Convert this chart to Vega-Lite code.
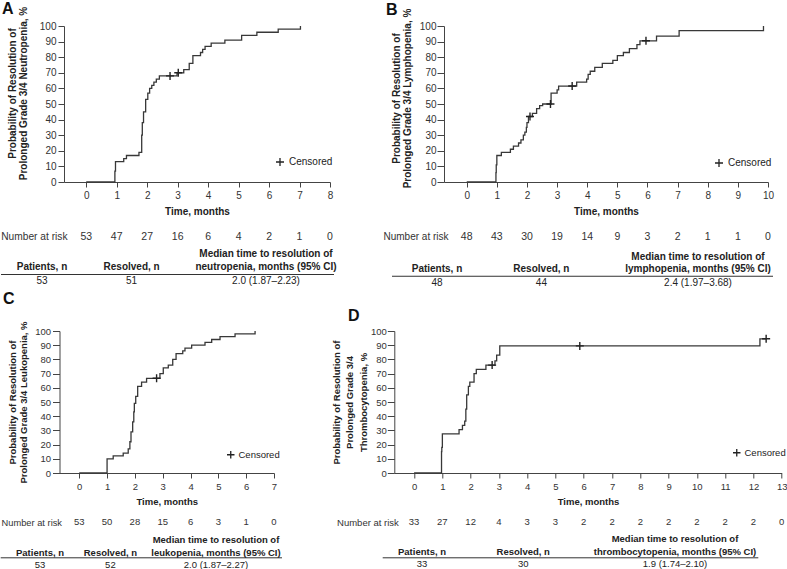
{
  "$schema": "https://vega.github.io/schema/vega-lite/v6.json",
  "background": "white",
  "padding": {"left": 0, "right": 1, "top": 0, "bottom": 0},
  "config": {
    "font": "Liberation Sans",
    "view": {"stroke": null},
    "axis": {"labelColor": "#333", "titleColor": "#222", "domainColor": "#444", "tickColor": "#444", "grid": false, "labelFontSize": 10, "titleFontSize": 10, "titleFontWeight": "bold", "labelOverlap": false},
    "axisX": {"labelFlush": false, "tickSize": 5, "labelPadding": 3, "titlePadding": 6},
    "axisY": {"tickSize": 6, "labelPadding": 2}
  },
  "datasets": {
    "kmA": [{"t":0,"p":0},{"t":0.94,"p":7},{"t":0.96,"p":13},{"t":1.23,"p":15},{"t":1.32,"p":17},{"t":1.73,"p":19},{"t":1.82,"p":30},{"t":1.84,"p":38},{"t":1.88,"p":45},{"t":1.95,"p":53},{"t":2.02,"p":57},{"t":2.08,"p":60},{"t":2.15,"p":62},{"t":2.22,"p":64},{"t":2.3,"p":66},{"t":2.4,"p":68},{"t":2.98,"p":70},{"t":3.2,"p":72},{"t":3.38,"p":76},{"t":3.5,"p":81},{"t":3.75,"p":83},{"t":3.82,"p":85},{"t":3.9,"p":87},{"t":4.1,"p":89},{"t":4.55,"p":91},{"t":5.1,"p":94},{"t":5.6,"p":96},{"t":6.3,"p":98},{"t":7.03,"p":100}],
    "censA": [{"t":2.75,"p":68,"c":"Censored"},{"t":3.02,"p":70,"c":"Censored"}],
    "riskA": [{"t":0,"n":53,"r":"Number at risk"},{"t":1,"n":47,"r":"Number at risk"},{"t":2,"n":27,"r":"Number at risk"},{"t":3,"n":16,"r":"Number at risk"},{"t":4,"n":6,"r":"Number at risk"},{"t":5,"n":4,"r":"Number at risk"},{"t":6,"n":2,"r":"Number at risk"},{"t":7,"n":1,"r":"Number at risk"},{"t":8,"n":0,"r":"Number at risk"}],
    "tabA": [{"col":"Patients, n","row":"header","txt":"\nPatients, n"},{"col":"Resolved, n","row":"header","txt":"\nResolved, n"},{"col":"Median","row":"header","txt":"Median time to resolution of\nneutropenia, months (95% CI)"},{"col":"Patients, n","row":"value","txt":"53"},{"col":"Resolved, n","row":"value","txt":"51"},{"col":"Median","row":"value","txt":"2.0 (1.87–2.23)"}],
    "kmB": [{"t":0,"p":0},{"t":0.97,"p":6},{"t":0.98,"p":11},{"t":1.0,"p":17},{"t":1.15,"p":19},{"t":1.45,"p":21},{"t":1.55,"p":23},{"t":1.72,"p":25},{"t":1.8,"p":27},{"t":1.88,"p":30},{"t":1.93,"p":32},{"t":1.98,"p":35},{"t":2.0,"p":38},{"t":2.05,"p":42},{"t":2.18,"p":44},{"t":2.32,"p":47},{"t":2.42,"p":49},{"t":2.52,"p":50},{"t":2.8,"p":57},{"t":3.0,"p":59},{"t":3.05,"p":61.5},{"t":3.65,"p":64},{"t":3.98,"p":66},{"t":4.03,"p":69},{"t":4.1,"p":71},{"t":4.25,"p":73.5},{"t":4.5,"p":76},{"t":4.85,"p":78},{"t":5.0,"p":81},{"t":5.2,"p":83},{"t":5.4,"p":85.5},{"t":5.65,"p":88},{"t":5.75,"p":90.5},{"t":6.3,"p":93.5},{"t":7.05,"p":97},{"t":9.85,"p":100}],
    "censB": [{"t":2.1,"p":42,"c":"Censored"},{"t":2.78,"p":50,"c":"Censored"},{"t":3.5,"p":61.5,"c":"Censored"},{"t":5.95,"p":90.5,"c":"Censored"}],
    "riskB": [{"t":0,"n":48,"r":"Number at risk"},{"t":1,"n":43,"r":"Number at risk"},{"t":2,"n":30,"r":"Number at risk"},{"t":3,"n":19,"r":"Number at risk"},{"t":4,"n":14,"r":"Number at risk"},{"t":5,"n":9,"r":"Number at risk"},{"t":6,"n":3,"r":"Number at risk"},{"t":7,"n":2,"r":"Number at risk"},{"t":8,"n":1,"r":"Number at risk"},{"t":9,"n":1,"r":"Number at risk"},{"t":10,"n":0,"r":"Number at risk"}],
    "tabB": [{"col":"Patients, n","row":"header","txt":"\nPatients, n"},{"col":"Resolved, n","row":"header","txt":"\nResolved, n"},{"col":"Median","row":"header","txt":"Median time to resolution of\nlymphopenia, months (95% CI)"},{"col":"Patients, n","row":"value","txt":"48"},{"col":"Resolved, n","row":"value","txt":"44"},{"col":"Median","row":"value","txt":"2.4 (1.97–3.68)"}],
    "kmC": [{"t":0,"p":0},{"t":1.0,"p":10},{"t":1.22,"p":12},{"t":1.58,"p":14},{"t":1.76,"p":17},{"t":1.82,"p":22},{"t":1.86,"p":29},{"t":1.92,"p":36},{"t":1.96,"p":43},{"t":1.98,"p":49},{"t":2.03,"p":54},{"t":2.1,"p":61},{"t":2.24,"p":64},{"t":2.42,"p":66.7},{"t":2.9,"p":70},{"t":3.02,"p":74},{"t":3.2,"p":76},{"t":3.36,"p":80},{"t":3.48,"p":84},{"t":3.72,"p":86},{"t":3.8,"p":88},{"t":4.04,"p":90},{"t":4.52,"p":92},{"t":4.76,"p":94},{"t":5.06,"p":96},{"t":5.6,"p":98},{"t":6.32,"p":100}],
    "censC": [{"t":2.78,"p":66.7,"c":"Censored"}],
    "riskC": [{"t":0,"n":53,"r":"Number at risk"},{"t":1,"n":50,"r":"Number at risk"},{"t":2,"n":28,"r":"Number at risk"},{"t":3,"n":15,"r":"Number at risk"},{"t":4,"n":6,"r":"Number at risk"},{"t":5,"n":3,"r":"Number at risk"},{"t":6,"n":1,"r":"Number at risk"},{"t":7,"n":0,"r":"Number at risk"}],
    "tabC": [{"col":"Patients, n","row":"header","txt":"\nPatients, n"},{"col":"Resolved, n","row":"header","txt":"\nResolved, n"},{"col":"Median","row":"header","txt":"Median time to resolution of\nleukopenia, months (95% CI)"},{"col":"Patients, n","row":"value","txt":"53"},{"col":"Resolved, n","row":"value","txt":"52"},{"col":"Median","row":"value","txt":"2.0 (1.87–2.27)"}],
    "kmD": [{"t":0,"p":0},{"t":0.97,"p":15},{"t":0.98,"p":18},{"t":1.0,"p":27.5},{"t":1.59,"p":30.5},{"t":1.71,"p":33.5},{"t":1.79,"p":36.5},{"t":1.83,"p":45},{"t":1.86,"p":55},{"t":1.92,"p":61},{"t":1.97,"p":64},{"t":2.12,"p":70},{"t":2.2,"p":73},{"t":2.54,"p":76},{"t":2.86,"p":79},{"t":2.92,"p":83},{"t":3.03,"p":89.5},{"t":12.23,"p":94.5},{"t":12.45,"p":94.5}],
    "censD": [{"t":2.76,"p":76,"c":"Censored"},{"t":5.86,"p":89.5,"c":"Censored"},{"t":12.45,"p":94.5,"c":"Censored"}],
    "riskD": [{"t":0,"n":33,"r":"Number at risk"},{"t":1,"n":27,"r":"Number at risk"},{"t":2,"n":12,"r":"Number at risk"},{"t":3,"n":4,"r":"Number at risk"},{"t":4,"n":3,"r":"Number at risk"},{"t":5,"n":3,"r":"Number at risk"},{"t":6,"n":2,"r":"Number at risk"},{"t":7,"n":2,"r":"Number at risk"},{"t":8,"n":2,"r":"Number at risk"},{"t":9,"n":2,"r":"Number at risk"},{"t":10,"n":2,"r":"Number at risk"},{"t":11,"n":2,"r":"Number at risk"},{"t":12,"n":2,"r":"Number at risk"},{"t":13,"n":0,"r":"Number at risk"}],
    "tabD": [{"col":"Patients, n","row":"header","txt":"\nPatients, n"},{"col":"Resolved, n","row":"header","txt":"\nResolved, n"},{"col":"Median","row":"header","txt":"Median time to resolution of\nthrombocytopenia, months (95% CI)"},{"col":"Patients, n","row":"value","txt":"33"},{"col":"Resolved, n","row":"value","txt":"30"},{"col":"Median","row":"value","txt":"1.9 (1.74–2.10)"}]
  },
  "spacing": 1,
  "resolve": {"scale": {"shape": "independent"}, "legend": {"shape": "independent"}},
  "vconcat": [
    {
      "hconcat": [
        {
          "vconcat": [
            {
              "width": 266, "height": 156,
              "title": {"text": "A", "anchor": "start", "frame": "group", "fontSize": 16, "fontWeight": "bold", "color": "#111", "offset": 0, "dx": -62, "dy": 10.4},
              "encoding": {
                "x": {"field": "t", "type": "quantitative", "scale": {"domain": [-0.73, 8], "nice": false, "zero": false}, "axis": {"values": [0,1,2,3,4,5,6,7,8], "tickCount": 9, "labelOverlap": false, "title": "Time, months"}},
                "y": {"field": "p", "type": "quantitative", "scale": {"domain": [0, 100], "nice": false}, "axis": {"values": [0,10,20,30,40,50,60,70,80,90,100], "tickCount": 11, "labelOverlap": false, "title": ["Probability of Resolution of", "Prolonged Grade 3/4 Neutropenia, %"], "titleLineHeight": 11, "titlePadding": 11, "titleY": 67}}
              },
              "layer": [
                {"data": {"name": "kmA"}, "mark": {"type": "line", "interpolate": "step-after", "color": "#383838", "strokeWidth": 1.3}},
                {"data": {"name": "censA"}, "mark": {"type": "point", "filled": false, "color": "#222", "strokeWidth": 1.4, "size": 64, "opacity": 1},
                 "encoding": {
                   "shape": {"field": "c", "type": "nominal", "scale": {"range": ["M-1,0H1M0,-1V1"]}, "legend": {"orient": "none", "legendX": 211, "legendY": 131, "title": null, "labelFontSize": 10, "labelColor": "#222", "symbolStrokeColor": "#222", "symbolStrokeWidth": 1.3, "symbolSize": 64, "symbolFillColor": "transparent", "padding": 0, "labelOffset": 4}}
                 }}
              ]
            },
            {
              "width": 266, "height": 65,
              "data": {"name": "riskA"},
              "mark": {"type": "text", "fontSize": 10.5, "color": "#333", "baseline": "middle"},
              "encoding": {
                "x": {"field": "t", "type": "quantitative", "scale": {"domain": [-0.73, 8], "nice": false, "zero": false}, "axis": null},
                "y": {"field": "r", "type": "nominal", "scale": {"type": "point", "range": [54.7, 54.7]}, "axis": {"title": null, "domain": false, "ticks": false, "labelPadding": -3, "labelFontSize": 10.2, "labelColor": "#333"}},
                "text": {"field": "n", "type": "quantitative"}
              }
            },
            {
              "width": 266, "height": 42,
              "data": {"name": "tabA"},
              "resolve": {"scale": {"x": "independent"}},
              "layer": [
                {"transform": [{"filter": "datum.row === 'header'"}],
                 "mark": {"type": "text", "fontWeight": "bold", "fontSize": 10, "baseline": "bottom", "lineBreak": "\n", "lineHeight": 12.5, "color": "#222"},
                 "encoding": {
                   "x": {"field": "col", "type": "nominal", "scale": {"type": "point", "domain": ["Patients, n", "s1", "Resolved, n", "s2", "s3", "Median"], "range": [-22, 202], "padding": 0}, "axis": null},
                   "y": {"field": "row", "type": "nominal", "scale": {"type": "point", "domain": ["header", "rule", "value"], "range": [12.4, 42.6], "padding": 0}, "axis": null},
                   "text": {"field": "txt", "type": "nominal"}
                 }},
                {"transform": [{"filter": "datum.row === 'value'"}],
                 "mark": {"type": "text", "fontSize": 10, "baseline": "middle", "dy": -8.2, "color": "#222"},
                 "encoding": {
                   "x": {"field": "col", "type": "nominal", "scale": {"type": "point", "domain": ["Patients, n", "s1", "Resolved, n", "s2", "s3", "Median"], "range": [-22, 202], "padding": 0}, "axis": null},
                   "y": {"field": "row", "type": "nominal"},
                   "text": {"field": "txt", "type": "nominal"}
                 }},
                {"data": {"values": [{"row": "rule"}]},
                 "mark": {"type": "rule", "color": "#333", "strokeWidth": 1},
                 "encoding": {
                   "x": {"datum": 0, "type": "quantitative", "scale": {"domain": [0, 1], "range": [-63, 270]}, "axis": null},
                   "x2": {"datum": 1},
                   "y": {"field": "row", "type": "nominal"}
                 }}
              ]
            }
          ],
          "spacing": 0,
          "bounds": "flush",
          "resolve": {"scale": {"shape": "independent"}, "legend": {"shape": "independent"}}
        },
        {
          "vconcat": [
            {
              "width": 324, "height": 156,
              "title": {"text": "B", "anchor": "start", "frame": "group", "fontSize": 16, "fontWeight": "bold", "color": "#111", "offset": 0, "dx": -58, "dy": 9.4},
              "encoding": {
                "x": {"field": "t", "type": "quantitative", "scale": {"domain": [-0.754, 10], "nice": false, "zero": false}, "axis": {"values": [0,1,2,3,4,5,6,7,8,9,10], "tickCount": 11, "labelOverlap": false, "title": "Time, months"}},
                "y": {"field": "p", "type": "quantitative", "scale": {"domain": [0, 100], "nice": false}, "axis": {"values": [0,10,20,30,40,50,60,70,80,90,100], "tickCount": 11, "labelOverlap": false, "title": ["Probability of Resolution of", "Prolonged Grade 3/4 Lymphopenia, %"], "titleLineHeight": 11, "titlePadding": 7, "titleY": 72, "tickSize": 7, "labelPadding": 1}}
              },
              "layer": [
                {"data": {"name": "kmB"}, "mark": {"type": "line", "interpolate": "step-after", "color": "#383838", "strokeWidth": 1.3}},
                {"data": {"name": "censB"}, "mark": {"type": "point", "filled": false, "color": "#222", "strokeWidth": 1.4, "size": 64, "opacity": 1},
                 "encoding": {
                   "shape": {"field": "c", "type": "nominal", "scale": {"range": ["M-1,0H1M0,-1V1"]}, "legend": {"orient": "none", "legendX": 270, "legendY": 132, "title": null, "labelFontSize": 10, "labelColor": "#222", "symbolStrokeColor": "#222", "symbolStrokeWidth": 1.3, "symbolSize": 64, "symbolFillColor": "transparent", "padding": 0, "labelOffset": 4}}
                 }}
              ]
            },
            {
              "width": 324, "height": 65,
              "data": {"name": "riskB"},
              "mark": {"type": "text", "fontSize": 10.5, "color": "#333", "baseline": "middle"},
              "encoding": {
                "x": {"field": "t", "type": "quantitative", "scale": {"domain": [-0.754, 10], "nice": false, "zero": false}, "axis": null},
                "y": {"field": "r", "type": "nominal", "scale": {"type": "point", "range": [54.7, 54.7]}, "axis": {"title": null, "domain": false, "ticks": false, "labelPadding": -4, "labelFontSize": 10, "labelColor": "#333"}},
                "text": {"field": "n", "type": "quantitative"}
              }
            },
            {
              "width": 324, "height": 42,
              "data": {"name": "tabB"},
              "resolve": {"scale": {"x": "independent"}},
              "layer": [
                {"transform": [{"filter": "datum.row === 'header'"}],
                 "mark": {"type": "text", "fontWeight": "bold", "fontSize": 10, "baseline": "bottom", "lineBreak": "\n", "lineHeight": 12.5, "color": "#222"},
                 "encoding": {
                   "x": {"field": "col", "type": "nominal", "scale": {"type": "point", "domain": ["Patients, n", "s1", "Resolved, n", "s2", "s3", "Median"], "range": [-7, 254], "padding": 0}, "axis": null},
                   "y": {"field": "row", "type": "nominal", "scale": {"type": "point", "domain": ["header", "rule", "value"], "range": [14.7, 43.8], "padding": 0}, "axis": null},
                   "text": {"field": "txt", "type": "nominal"}
                 }},
                {"transform": [{"filter": "datum.row === 'value'"}],
                 "mark": {"type": "text", "fontSize": 10, "baseline": "middle", "dy": -8.3, "color": "#222"},
                 "encoding": {
                   "x": {"field": "col", "type": "nominal", "scale": {"type": "point", "domain": ["Patients, n", "s1", "Resolved, n", "s2", "s3", "Median"], "range": [-7, 254], "padding": 0}, "axis": null},
                   "y": {"field": "row", "type": "nominal"},
                   "text": {"field": "txt", "type": "nominal"}
                 }},
                {"data": {"values": [{"row": "rule"}]},
                 "mark": {"type": "rule", "color": "#333", "strokeWidth": 1},
                 "encoding": {
                   "x": {"datum": 0, "type": "quantitative", "scale": {"domain": [0, 1], "range": [-52, 329]}, "axis": null},
                   "x2": {"datum": 1},
                   "y": {"field": "row", "type": "nominal"}
                 }}
              ]
            }
          ],
          "spacing": 0,
          "bounds": "flush",
          "resolve": {"scale": {"shape": "independent"}, "legend": {"shape": "independent"}}
        }
      ],
      "spacing": 45,
      "resolve": {"scale": {"shape": "independent"}, "legend": {"shape": "independent"}}
    },
    {
      "hconcat": [
        {
          "vconcat": [
            {
              "width": 214.5, "height": 142,
              "title": {"text": "C", "anchor": "start", "frame": "group", "fontSize": 16, "fontWeight": "bold", "color": "#111", "offset": 0, "dx": -61, "dy": -14},
              "encoding": {
                "x": {"field": "t", "type": "quantitative", "scale": {"domain": [-0.71, 7], "range": [-4.5, 210], "nice": false, "zero": false}, "axis": {"values": [0,1,2,3,4,5,6,7], "tickCount": 8, "labelOverlap": false, "title": "Time, months", "labelFontSize": 9.5, "titleFontSize": 9.5}},
                "y": {"field": "p", "type": "quantitative", "scale": {"domain": [0, 100], "nice": false}, "axis": {"values": [0,10,20,30,40,50,60,70,80,90,100], "tickCount": 11, "labelOverlap": false, "offset": 4.5, "title": ["Probability of Resolution of", "Prolonged Grade 3/4 Leukopenia, %"], "titleLineHeight": 11, "titlePadding": 6, "labelFontSize": 9.5, "titleFontSize": 9.5, "tickSize": 7, "labelPadding": 2}}
              },
              "layer": [
                {"data": {"name": "kmC"}, "mark": {"type": "line", "interpolate": "step-after", "color": "#383838", "strokeWidth": 1.3}},
                {"data": {"name": "censC"}, "mark": {"type": "point", "filled": false, "color": "#222", "strokeWidth": 1.4, "size": 64, "opacity": 1},
                 "encoding": {
                   "shape": {"field": "c", "type": "nominal", "scale": {"range": ["M-1,0H1M0,-1V1"]}, "legend": {"orient": "none", "legendX": 162, "legendY": 119, "title": null, "labelFontSize": 9.5, "labelColor": "#222", "symbolStrokeColor": "#222", "symbolStrokeWidth": 1.3, "symbolSize": 56, "symbolFillColor": "transparent", "padding": 0, "labelOffset": 3}}
                 }}
              ]
            },
            {
              "width": 214.5, "height": 60,
              "data": {"name": "riskC"},
              "mark": {"type": "text", "fontSize": 9.5, "color": "#333", "baseline": "middle"},
              "encoding": {
                "x": {"field": "t", "type": "quantitative", "scale": {"domain": [-0.71, 7], "range": [-4.5, 210], "nice": false, "zero": false}, "axis": null},
                "y": {"field": "r", "type": "nominal", "scale": {"type": "point", "range": [49.2, 49.2]}, "axis": {"title": null, "domain": false, "ticks": false, "labelPadding": 2.5, "labelFontSize": 9.3, "labelColor": "#333"}},
                "text": {"field": "n", "type": "quantitative"}
              }
            },
            {
              "width": 214.5, "height": 38,
              "data": {"name": "tabC"},
              "resolve": {"scale": {"x": "independent"}},
              "layer": [
                {"transform": [{"filter": "datum.row === 'header'"}],
                 "mark": {"type": "text", "fontWeight": "bold", "fontSize": 9.5, "baseline": "bottom", "lineBreak": "\n", "lineHeight": 13, "color": "#222"},
                 "encoding": {
                   "x": {"field": "col", "type": "nominal", "scale": {"type": "point", "domain": ["Patients, n", "s1", "Resolved, n", "s2", "s3", "Median"], "range": [-24, 152], "padding": 0}, "axis": null},
                   "y": {"field": "row", "type": "nominal", "scale": {"type": "point", "domain": ["header", "rule", "value"], "range": [11.5, 38.1], "padding": 0}, "axis": null},
                   "text": {"field": "txt", "type": "nominal"}
                 }},
                {"transform": [{"filter": "datum.row === 'value'"}],
                 "mark": {"type": "text", "fontSize": 9.5, "baseline": "middle", "dy": -6.5, "color": "#222"},
                 "encoding": {
                   "x": {"field": "col", "type": "nominal", "scale": {"type": "point", "domain": ["Patients, n", "s1", "Resolved, n", "s2", "s3", "Median"], "range": [-24, 152], "padding": 0}, "axis": null},
                   "y": {"field": "row", "type": "nominal"},
                   "text": {"field": "txt", "type": "nominal"}
                 }},
                {"data": {"values": [{"row": "rule"}]},
                 "mark": {"type": "rule", "color": "#333", "strokeWidth": 1},
                 "encoding": {
                   "x": {"datum": 0, "type": "quantitative", "scale": {"domain": [0, 1], "range": [-63.3, 218]}, "axis": null},
                   "x2": {"datum": 1},
                   "y": {"field": "row", "type": "nominal"}
                 }}
              ]
            }
          ],
          "spacing": 0,
          "bounds": "flush",
          "resolve": {"scale": {"shape": "independent"}, "legend": {"shape": "independent"}}
        },
        {
          "vconcat": [
            {
              "width": 387.4, "height": 142,
              "title": {"text": "D", "anchor": "start", "frame": "group", "fontSize": 16, "fontWeight": "bold", "color": "#111", "offset": 0, "dx": -46.3, "dy": -2.5},
              "encoding": {
                "x": {"field": "t", "type": "quantitative", "scale": {"domain": [-0.7, 13], "nice": false, "zero": false}, "axis": {"values": [0,1,2,3,4,5,6,7,8,9,10,11,12,13], "tickCount": 14, "labelOverlap": false, "title": "Time, months", "labelFontSize": 9.5, "titleFontSize": 9.5}},
                "y": {"field": "p", "type": "quantitative", "scale": {"domain": [0, 100], "nice": false}, "axis": {"values": [0,10,20,30,40,50,60,70,80,90,100], "tickCount": 11, "labelOverlap": false, "title": ["Probability of Resolution of", "Prolonged Grade 3/4", "Thrombocytopenia, %"], "titleLineHeight": 13.5, "titlePadding": 2, "labelFontSize": 9.5, "titleFontSize": 9.5, "tickSize": 7, "labelPadding": 1}}
              },
              "layer": [
                {"data": {"name": "kmD"}, "mark": {"type": "line", "interpolate": "step-after", "color": "#383838", "strokeWidth": 1.3}},
                {"data": {"name": "censD"}, "mark": {"type": "point", "filled": false, "color": "#222", "strokeWidth": 1.4, "size": 64, "opacity": 1},
                 "encoding": {
                   "shape": {"field": "c", "type": "nominal", "scale": {"range": ["M-1,0H1M0,-1V1"]}, "legend": {"orient": "none", "legendX": 337.7, "legendY": 117, "title": null, "labelFontSize": 9.5, "labelColor": "#222", "symbolStrokeColor": "#222", "symbolStrokeWidth": 1.3, "symbolSize": 56, "symbolFillColor": "transparent", "padding": 0, "labelOffset": 3}}
                 }}
              ]
            },
            {
              "width": 387.4, "height": 60,
              "data": {"name": "riskD"},
              "mark": {"type": "text", "fontSize": 9.5, "color": "#333", "baseline": "middle"},
              "encoding": {
                "x": {"field": "t", "type": "quantitative", "scale": {"domain": [-0.7, 13], "nice": false, "zero": false}, "axis": null},
                "y": {"field": "r", "type": "nominal", "scale": {"type": "point", "range": [49.2, 49.2]}, "axis": {"title": null, "domain": false, "ticks": false, "labelPadding": -4, "labelFontSize": 9.5, "labelColor": "#333"}},
                "text": {"field": "n", "type": "quantitative"}
              }
            },
            {
              "width": 387.4, "height": 38,
              "data": {"name": "tabD"},
              "resolve": {"scale": {"x": "independent"}},
              "layer": [
                {"transform": [{"filter": "datum.row === 'header'"}],
                 "mark": {"type": "text", "fontWeight": "bold", "fontSize": 9.5, "baseline": "bottom", "lineBreak": "\n", "lineHeight": 12.7, "color": "#222"},
                 "encoding": {
                   "x": {"field": "col", "type": "nominal", "scale": {"type": "point", "domain": ["Patients, n", "s1", "Resolved, n", "s2", "s3", "Median"], "range": [27.7, 280.7], "padding": 0}, "axis": null},
                   "y": {"field": "row", "type": "nominal", "scale": {"type": "point", "domain": ["header", "rule", "value"], "range": [10.9, 38.7], "padding": 0}, "axis": null},
                   "text": {"field": "txt", "type": "nominal"}
                 }},
                {"transform": [{"filter": "datum.row === 'value'"}],
                 "mark": {"type": "text", "fontSize": 9.5, "baseline": "middle", "dy": -7.8, "color": "#222"},
                 "encoding": {
                   "x": {"field": "col", "type": "nominal", "scale": {"type": "point", "domain": ["Patients, n", "s1", "Resolved, n", "s2", "s3", "Median"], "range": [27.7, 280.7], "padding": 0}, "axis": null},
                   "y": {"field": "row", "type": "nominal"},
                   "text": {"field": "txt", "type": "nominal"}
                 }},
                {"data": {"values": [{"row": "rule"}]},
                 "mark": {"type": "rule", "color": "#333", "strokeWidth": 1},
                 "encoding": {
                   "x": {"datum": 0, "type": "quantitative", "scale": {"domain": [0, 1], "range": [-11.6, 364]}, "axis": null},
                   "x2": {"datum": 1},
                   "y": {"field": "row", "type": "nominal"}
                 }}
              ]
            }
          ],
          "spacing": 0,
          "bounds": "flush",
          "resolve": {"scale": {"shape": "independent"}, "legend": {"shape": "independent"}}
        }
      ],
      "spacing": 48.3,
      "resolve": {"scale": {"shape": "independent"}, "legend": {"shape": "independent"}}
    }
  ]
}
